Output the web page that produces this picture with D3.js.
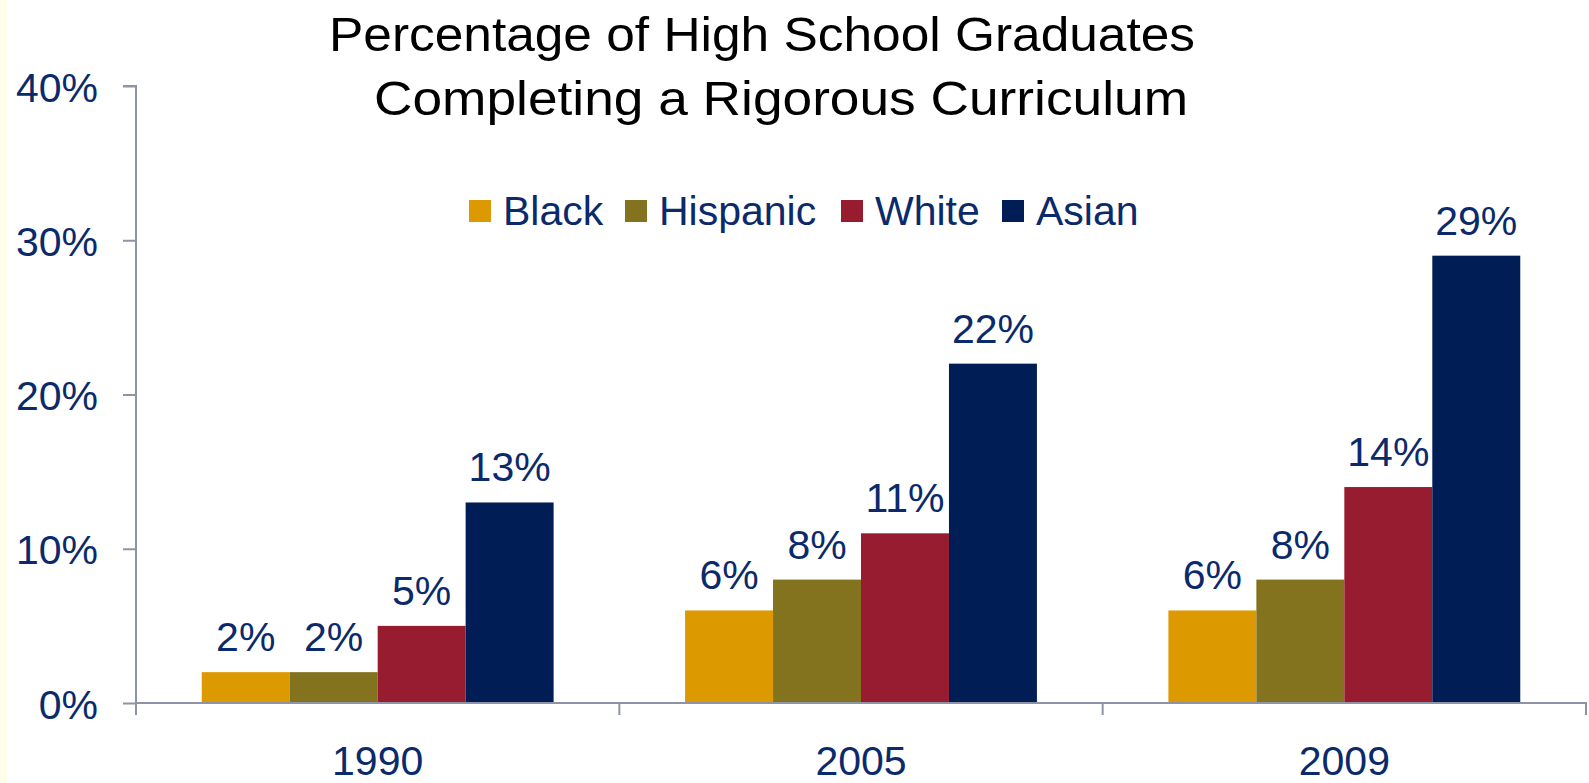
<!DOCTYPE html>
<html><head><meta charset="utf-8">
<script src="https://cdn.jsdelivr.net/npm/d3@7/dist/d3.min.js"></script>
<style>html,body{margin:0;padding:0;background:#fff;}svg{display:block;}</style>
</head><body>
<script>
const categories = ["1990", "2005", "2009"];
const seriesNames = ["Black", "Hispanic", "White", "Asian"];
const black = [2, 6, 6];
const hispanic = [2, 8, 8];
const white = [5, 11, 14];
const asian = [13, 22, 29];
const yTicks = [0, 10, 20, 30, 40];
const colors = ["#DD9900", "#84731E", "#981C2F", "#001E55"];
const seriesValues = [black, hispanic, white, asian];

const W = 1589, H = 783;
const svg = d3.select("body").append("svg").attr("width", W).attr("height", H);
svg.append("rect").attr("x",0).attr("y",0).attr("width",7).attr("height",H).attr("fill","#FEFFEA");

const textColor = "#0B2A6B";
const axisColor = "#8E93A7";
const font = "'Liberation Sans', Arial, sans-serif";
const mLeft = 136, mRight = 1586, mTop = 86, mBottom = 703;
const fs = 41;

const x = d3.scaleBand().domain(categories).range([mLeft, mRight]).paddingInner(0).paddingOuter(0);
const y = d3.scaleLinear().domain([0, 40]).range([mBottom, mTop]);
const groupFrac = 0.728;
const xsub = d3.scaleBand().domain(seriesNames)
  .range([x.bandwidth()*(1-groupFrac)/2, x.bandwidth()*(1+groupFrac)/2]);

// Title
const titleG = svg.append("g").attr("font-family", font).attr("font-size", 48).attr("fill","#000");
titleG.append("text").attr("x",329).attr("y",51)
  .attr("textLength", 866).attr("lengthAdjust","spacingAndGlyphs")
  .text("Percentage of High School Graduates");
titleG.append("text").attr("x",374).attr("y",115)
  .attr("textLength", 814).attr("lengthAdjust","spacingAndGlyphs")
  .text("Completing a Rigorous Curriculum");

// Y axis
const yAxis = d3.axisLeft(y).tickValues(yTicks).tickFormat(d => d + "%").tickSize(13).tickPadding(25);
const gy = svg.append("g").attr("transform", `translate(${mLeft},0)`).call(yAxis);
gy.select(".domain").attr("stroke", axisColor).attr("stroke-width", 2).attr("d", `M-13,${mTop}H0V${mBottom}`);
gy.selectAll(".tick line").attr("stroke", axisColor).attr("stroke-width", 2);
gy.selectAll(".tick text").attr("font-family", font).attr("font-size", fs).attr("fill", textColor).attr("dy","0.37em");

// X axis
const xAxis = d3.axisBottom(x).tickSize(0).tickPadding(43);
const gx = svg.append("g").attr("transform", `translate(0,${mBottom})`).call(xAxis);
gx.select(".domain").attr("stroke", axisColor).attr("stroke-width", 2).attr("d", `M${mLeft},0H${mRight}V12`);
gx.selectAll(".tick text").attr("font-family", font).attr("font-size", fs).attr("fill", textColor);
const bounds = categories.map(c => x(c)).concat([mRight]);
gx.selectAll("line.bt").data(bounds).enter().append("line").attr("class","bt")
  .attr("x1", d=>d).attr("x2", d=>d).attr("y1",0).attr("y2",12)
  .attr("stroke", axisColor).attr("stroke-width", 2);

// Bars
seriesNames.forEach((s, si) => {
  const g = svg.append("g");
  g.selectAll("rect").data(seriesValues[si]).enter().append("rect")
    .attr("x", (d,i) => x(categories[i]) + xsub(s))
    .attr("width", xsub.bandwidth())
    .attr("y", d => y(d))
    .attr("height", d => y(0) - y(d))
    .attr("fill", colors[si]);
  g.selectAll("text").data(seriesValues[si]).enter().append("text")
    .attr("x", (d,i) => x(categories[i]) + xsub(s) + xsub.bandwidth()/2)
    .attr("y", d => y(d) - 21)
    .attr("text-anchor","middle")
    .attr("font-family", font).attr("font-size", fs).attr("fill", textColor)
    .text(d => d + "%");
});

svg.append("line").attr("x1",mLeft).attr("x2",mRight).attr("y1",mBottom).attr("y2",mBottom)
  .attr("stroke", axisColor).attr("stroke-width", 2);

// Legend
const legendX = [469, 625, 841, 1002];
const lg = svg.append("g");
seriesNames.forEach((name, i) => {
  lg.append("rect").attr("x", legendX[i]).attr("y", 200).attr("width", 22).attr("height", 22).attr("fill", colors[i]);
  lg.append("text").attr("x", legendX[i] + 34).attr("y", 225)
    .attr("font-family", font).attr("font-size", fs).attr("fill", textColor).text(name);
});
</script>
</body></html>
